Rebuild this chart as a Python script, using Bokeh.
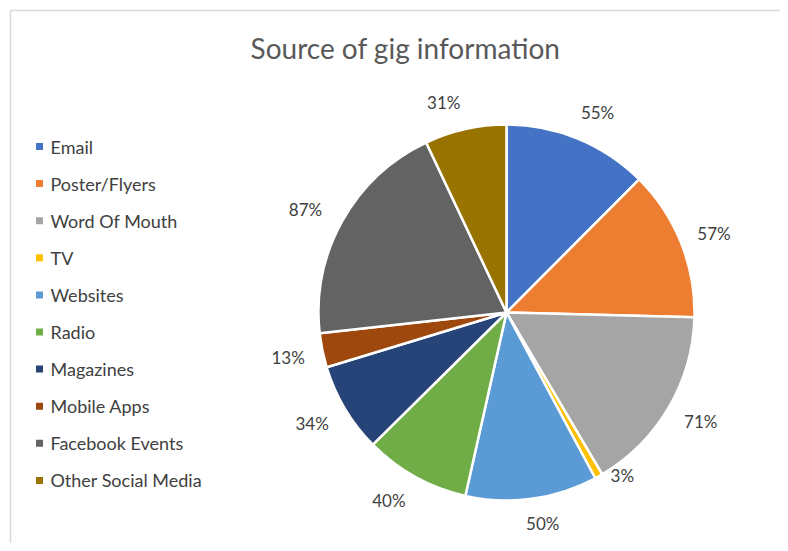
import math
from bokeh.plotting import figure
from bokeh.models import Range1d, ColumnDataSource
from bokeh.core.properties import value
from bokeh.embed import file_html
from bokeh.resources import INLINE

# ---- data ----
title = "Source of gig information"
categories = ["Email", "Poster/Flyers", "Word Of Mouth", "TV", "Websites",
              "Radio", "Magazines", "Mobile Apps", "Facebook Events", "Other Social Media"]
values = [55, 57, 71, 3, 50, 40, 34, 13, 87, 31]
colors = ["#4472C4", "#ED7D31", "#A5A5A5", "#FFC000", "#5B9BD5",
          "#70AD47", "#264478", "#9E480E", "#636363", "#997300"]

# ---- layout (pixels, in reference image coordinates) ----
W, H = 780, 543
OFF = 0
FONT = "Lato"
cx, cy_img, R = 506, 312, 188
label_r = [220, 222, 223, 200, 214, 222, 224, 223, 226, 219]
label_da = [2, 1, -1, -6, -2, 3, 1, 0, -2, -4]   # degrees nudge

def xdata(x_img):
    return x_img - OFF

def ydata(y_img):
    return H - (y_img - OFF)

p = figure(width=W, height=H, x_range=Range1d(0, W), y_range=Range1d(0, H),
           x_axis_type=None, y_axis_type=None, output_backend="svg",
           toolbar_location=None, min_border=0, outline_line_color=None,
           background_fill_color="white", border_fill_color="white")
p.grid.visible = False

# chart frame (left and top edges)
p.segment(x0=[xdata(10), xdata(10)], y0=[ydata(10), ydata(10)],
          x1=[xdata(10), xdata(800)], y1=[ydata(560), ydata(10)],
          line_color="#d9d9d9", line_width=1.5)

# title
p.text(x=[xdata(405)], y=[ydata(47)], text=[title], text_font=value(FONT), text_font_size="28px",
       text_color="#595959", text_align="center", text_baseline="middle")

# pie
total = sum(values)
starts, ends, mids = [], [], []
cum = 0
for v in values:
    a0 = 2 * math.pi * cum / total
    a1 = 2 * math.pi * (cum + v) / total
    starts.append(math.pi / 2 - a0)
    ends.append(math.pi / 2 - a1)
    mids.append((a0 + a1) / 2)
    cum += v

src = ColumnDataSource(dict(start=starts, end=ends, color=colors))
p.wedge(x=xdata(cx), y=ydata(cy_img), radius=R, radius_units="screen",
        start_angle="start", end_angle="end", direction="clock",
        fill_color="color", line_color="white", line_width=2.5, source=src)

# data labels
lx, ly, lt = [], [], []
for i, v in enumerate(values):
    th = mids[i] + math.radians(label_da[i])
    lx.append(xdata(cx) + label_r[i] * math.sin(th))
    ly.append(ydata(cy_img) + label_r[i] * math.cos(th))
    lt.append(f"{v}%")
p.text(x=lx, y=ly, text=lt, text_font=value(FONT), text_font_size="17px",
       text_color="#404040", text_align="center", text_baseline="middle")

# legend
leg_x, leg_y0, leg_dy = 39, 146, 37.1
gy = [ydata(leg_y0 + i * leg_dy) for i in range(len(categories))]
p.rect(x=[xdata(leg_x)] * len(categories), y=gy, width=7, height=7,
       width_units="screen", height_units="screen", fill_color=colors, line_color=None)
p.text(x=[xdata(leg_x + 11)] * len(categories), y=gy, text=categories, text_font=value(FONT),
       text_font_size="18px", text_color="#404040", text_align="left", text_baseline="middle")

open("out.html", "w").write(file_html(p, INLINE))
